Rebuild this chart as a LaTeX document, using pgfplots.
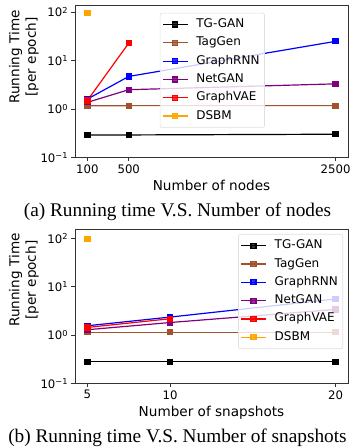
\documentclass[border=0pt]{standalone}
\usepackage{fontspec}
\setmainfont{Liberation Serif}
\newfontfamily\dvT[Scale=1.17]{DejaVu Sans}
\newfontfamily\dvL[Scale=1.2]{DejaVu Sans}
\newfontfamily\dvA[Scale=1.36]{DejaVu Sans}
\newfontfamily\capfont[Scale=1.93]{Liberation Serif}
\usepackage{pgfplots}
\pgfplotsset{compat=1.18}
\definecolor{sienna}{HTML}{A0522D}
\definecolor{mpurple}{HTML}{800080}
\definecolor{morange}{HTML}{FFA500}
\pgfplotsset{
    scale only axis,
    width=273pt,
    axis line style={black!80, line width=0.7pt},
    every tick/.style={black!80, line width=0.7pt},
    tick align=outside,
    tick pos=lower,
    major tick length=3.5pt,
    ticklabel style={font=\dvT},
    every axis x label/.style={at={(axis description cs:0.5,0)}, anchor=base, yshift=-33.5pt, font=\dvA},
    legend style={font=\dvL, draw=black!12, line width=0.6pt, rounded corners=2pt, fill=white, fill opacity=0.8, text opacity=1,
      row sep=3.3pt, column sep=5pt, inner xsep=2pt, inner ysep=4pt,
      nodes={inner xsep=3pt, inner ysep=1.5pt, text height=9pt, text depth=3pt}},
    legend cell align=left,
    legend image code/.code={
      \draw[mark repeat=2,mark phase=2] plot coordinates {(0pt,0pt) (12.5pt,0pt) (25pt,0pt)};},
    every axis plot/.append style={line width=1.2pt, mark=square*, mark size=2.5pt},
    ytick={0.1,1,10,100},
    yticklabels={10\textsuperscript{−1},10\textsuperscript{0},10\textsuperscript{1},10\textsuperscript{2}},
    yminorticks=false,
    ylabel={Running Time\\[2.5pt]{[per epoch]}},
}
\begin{document}
\begin{tikzpicture}
\useasboundingbox (0pt,0pt) rectangle (352pt,-448pt);
\begin{axis}[
  at={(75pt,-157.3pt)}, anchor=south west,
  height=152.3pt,
  ymode=log, ymin=0.1, ymax=141,
  ylabel style={at={(axis description cs:-0.1319,0.659)}, anchor=south, align=center, font=\dvA, inner sep=0pt},
  xmin=-20, xmax=2620,
  xtick={100,500,2500},
  xticklabels={100,500,2500},
  xlabel={Number of nodes},
  legend style={at={(0.503,0.949)}, anchor=north},
]
\addplot[black, mark options={fill=black}] coordinates {(100,0.29) (500,0.29) (2500,0.30)};
\addlegendentry{TG-GAN}
\addplot[sienna, mark options={fill=sienna}] coordinates {(100,1.16) (500,1.17) (2500,1.17)};
\addlegendentry{TagGen}
\addplot[blue, mark options={fill=blue}] coordinates {(100,1.6) (500,4.7) (2500,25)};
\addlegendentry{GraphRNN}
\addplot[mpurple, mark options={fill=mpurple}] coordinates {(100,1.37) (500,2.5) (2500,3.3)};
\addlegendentry{NetGAN}
\addplot[red, mark options={fill=red}] coordinates {(100,1.5) (500,23)};
\addlegendentry{GraphVAE}
\addplot[morange, mark options={fill=morange}] coordinates {(100,98)};
\addlegendentry{DSBM}
\end{axis}
\node[anchor=base] at (177.5pt,-216.7pt) {\capfont (a) Running time V.S. Number of nodes};
\begin{axis}[
  at={(75pt,-383.3pt)}, anchor=south west,
  height=154.3pt,
  ymode=log, ymin=0.1, ymax=158,
  ylabel style={at={(axis description cs:-0.1319,0.669)}, anchor=south, align=center, font=\dvA, inner sep=0pt},
  xmin=4.25, xmax=20.75,
  xtick={5,10,20},
  xticklabels={5,10,20},
  xlabel={Number of snapshots},
  legend style={at={(0.982,0.968)}, anchor=north east},
]
\addplot[black, mark options={fill=black}] coordinates {(5,0.28) (10,0.28) (20,0.28)};
\addlegendentry{TG-GAN}
\addplot[sienna, mark options={fill=sienna}] coordinates {(5,1.15) (10,1.15) (20,1.15)};
\addlegendentry{TagGen}
\addplot[blue, mark options={fill=blue}] coordinates {(5,1.56) (10,2.36) (20,5.6)};
\addlegendentry{GraphRNN}
\addplot[mpurple, mark options={fill=mpurple}] coordinates {(5,1.29) (10,1.82) (20,3.4)};
\addlegendentry{NetGAN}
\addplot[red, mark options={fill=red}] coordinates {(5,1.44) (10,2.18)};
\addlegendentry{GraphVAE}
\addplot[morange, mark options={fill=morange}] coordinates {(5,98)};
\addlegendentry{DSBM}
\end{axis}
\node[anchor=base] at (177.5pt,-442pt) {\capfont (b) Running time V.S. Number of snapshots};
\end{tikzpicture}
\end{document}
